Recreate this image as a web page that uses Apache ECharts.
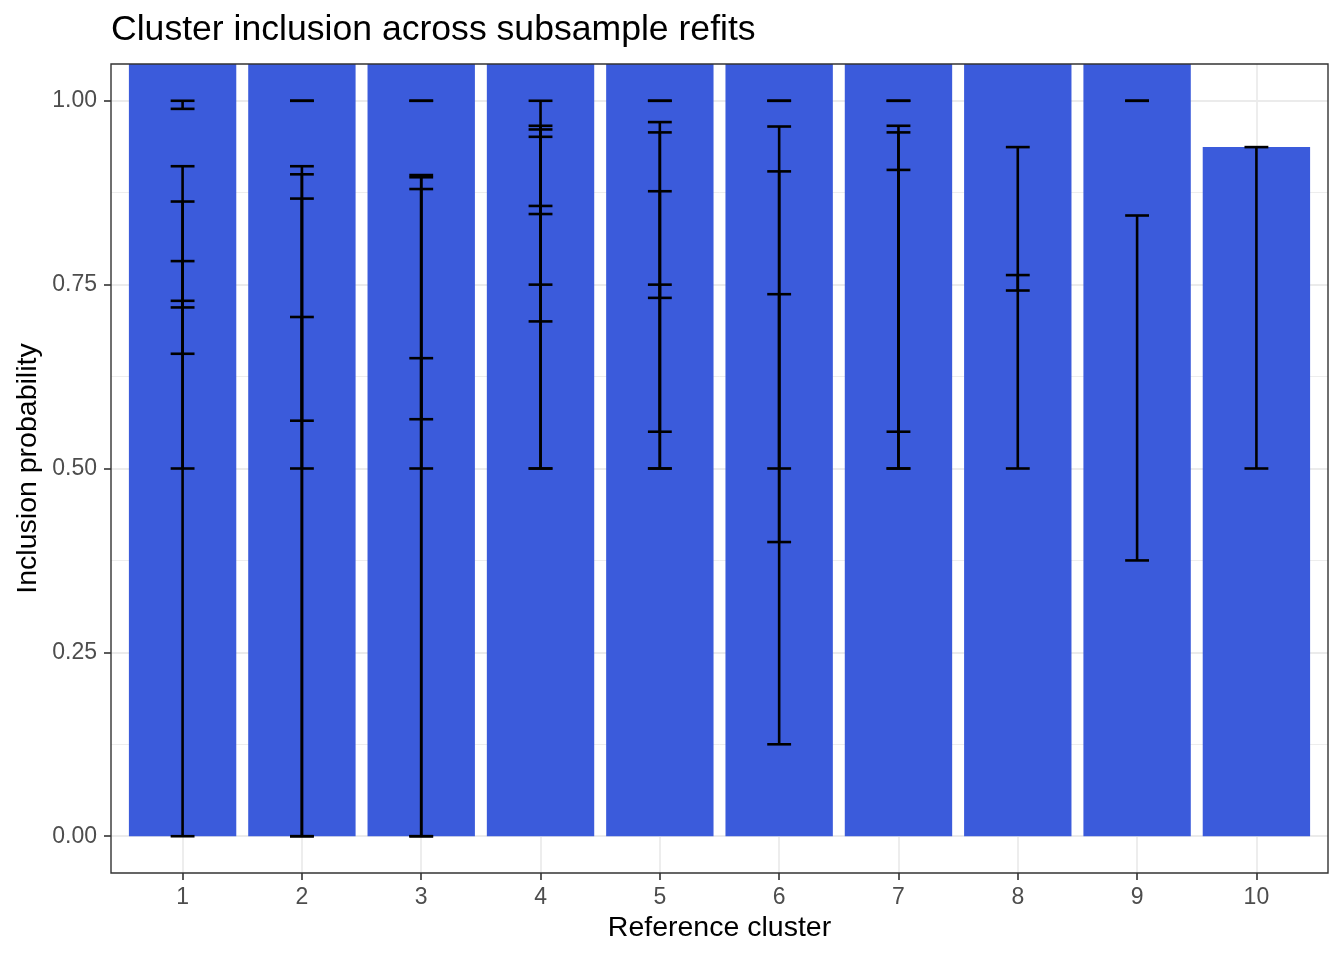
<!DOCTYPE html>
<html>
<head>
<meta charset="utf-8">
<script src="https://cdn.jsdelivr.net/npm/echarts@6/dist/echarts.min.js"></script>
<style>
  html, body { margin: 0; padding: 0; background: #ffffff; }
  #chart { width: 1344px; height: 960px; }
</style>
</head>
<body>
<div id="chart"></div>
<script>
// ---- data ----
const clusters = [1, 2, 3, 4, 5, 6, 7, 8, 9, 10];
const clusterLabels = ['1', '2', '3', '4', '5', '6', '7', '8', '9', '10'];
// stacked bar heights per cluster (clusters 1-9 run past the top of the panel)
const barTotals = [4.1, 4.3, 4.3, 4.6, 4.6, 3.6, 3.8, 1.8, 1.8, 0.937];
// one entry per refit interval
const ciCluster = [1, 1, 1, 1, 1,  2, 2, 2, 2, 2,  3, 3, 3, 3, 3,  4, 4, 4, 4, 4,  5, 5, 5, 5, 5,  6, 6, 6, 6,  7, 7, 7, 7,  8, 8,  9, 9,  10];
const ciLow  = [0.989, 0.000, 0.500, 0.656, 0.719,  1.000, 0.000, 0.500, 0.565, 0.000,  1.000, 0.000, 0.000, 0.500, 0.567,  0.500, 0.500, 0.700, 0.750, 0.846,  1.000, 0.500, 0.550, 0.500, 0.732,  1.000, 0.125, 0.400, 0.500,  1.000, 0.500, 0.550, 0.500,  0.500, 0.742,  1.000, 0.375,  0.500];
const ciHigh = [1.000, 0.911, 0.863, 0.782, 0.728,  1.000, 0.911, 0.900, 0.867, 0.706,  1.000, 0.899, 0.896, 0.880, 0.650,  1.000, 0.966, 0.961, 0.951, 0.857,  1.000, 0.971, 0.957, 0.877, 0.750,  1.000, 0.965, 0.904, 0.737,  1.000, 0.966, 0.957, 0.906,  0.937, 0.763,  1.000, 0.844,  0.937];
const yTicks = [0, 0.25, 0.5, 0.75, 1.0];
const yMinorTicks = [0.125, 0.375, 0.625, 0.875];

// ---- layout ----
const FONT = '"Liberation Sans", Arial, Helvetica, sans-serif';
const G = { left: 111, top: 64, right: 16, bottom: 87 };
const PW = 1344 - G.left - G.right, PH = 960 - G.top - G.bottom;
const BAR_COLOR = '#3B5BDB';

const barData = clusters.map((c, i) => [c, barTotals[i]]);
const ciData = ciCluster.map((c, i) => [c, ciLow[i], ciHigh[i]]);

function renderBar(params, api) {
  const x = api.value(0), v = api.value(1);
  const p0 = api.coord([x - 0.45, 0]);
  const p1 = api.coord([x + 0.45, v]);
  const rect = { x: p0[0], y: p1[1], width: p1[0] - p0[0], height: p0[1] - p1[1] };
  const cs = params.coordSys;
  const clipped = echarts.graphic.clipRectByRect(rect, { x: cs.x, y: cs.y, width: cs.width, height: cs.height });
  if (!clipped) return null;
  return { type: 'rect', shape: clipped, style: { fill: BAR_COLOR } };
}

function renderErr(params, api) {
  const x = api.value(0), lo = api.value(1), hi = api.value(2);
  const a = api.coord([x, lo]), b = api.coord([x, hi]);
  const l = api.coord([x - 0.1, lo])[0], r = api.coord([x + 0.1, lo])[0];
  const style = { stroke: '#000000', lineWidth: 2.6, lineCap: 'butt' };
  return {
    type: 'group',
    children: [
      { type: 'line', shape: { x1: a[0], y1: a[1], x2: b[0], y2: b[1] }, style },
      { type: 'line', shape: { x1: l, y1: a[1], x2: r, y2: a[1] }, style },
      { type: 'line', shape: { x1: l, y1: b[1], x2: r, y2: b[1] }, style }
    ]
  };
}

const chart = echarts.init(document.getElementById('chart'), null, { renderer: 'canvas' });
chart.setOption({
  animation: false,
  backgroundColor: '#ffffff',
  title: {
    text: 'Cluster inclusion across subsample refits',
    left: G.left - 5, top: 7,
    textStyle: { fontFamily: FONT, fontSize: 35.6, fontWeight: 'normal', color: '#000000' }
  },
  grid: { left: G.left, top: G.top, right: G.right, bottom: G.bottom, containLabel: false, show: false },
  xAxis: {
    type: 'value', min: 0.4, max: 10.6,
    axisLine: { show: false, onZero: false },
    axisTick: { show: true, customValues: clusters, length: 7, lineStyle: { color: '#333333', width: 1.6 } },
    axisLabel: {
      customValues: clusters, margin: 13,
      formatter: v => clusterLabels[clusters.indexOf(Math.round(v))] || '',
      fontFamily: FONT, fontSize: 23, color: '#4D4D4D'
    },
    splitLine: { show: true, lineStyle: { color: '#EBEBEB', width: 1.8 } }
  },
  yAxis: [
    {
      type: 'value', min: -0.05, max: 1.05,
      axisLine: { show: false, onZero: false },
      axisTick: { show: true, customValues: yTicks, length: 7, lineStyle: { color: '#333333', width: 1.6 } },
      axisLabel: {
        customValues: yTicks, margin: 14,
        formatter: v => v.toFixed(2),
        fontFamily: FONT, fontSize: 23, color: '#4D4D4D'
      },
      splitLine: { show: true, lineStyle: { color: '#EBEBEB', width: 1.8 } }
    },
    {
      type: 'value', min: -0.05, max: 1.05, position: 'left',
      axisLine: { show: false, onZero: false },
      axisTick: { show: false, customValues: yMinorTicks },
      axisLabel: { show: false, customValues: yMinorTicks },
      splitLine: { show: true, lineStyle: { color: '#EBEBEB', width: 0.9 } }
    }
  ],
  graphic: [
    {
      type: 'rect', z: 100, silent: true,
      shape: { x: G.left, y: G.top, width: PW, height: PH },
      style: { fill: null, stroke: '#333333', lineWidth: 1.4 }
    },
    {
      type: 'text', z: 100, x: G.left + PW / 2, y: 928,
      style: { text: 'Reference cluster', fontFamily: FONT, fontSize: 28.5, fill: '#000000', align: 'center', verticalAlign: 'middle' }
    },
    {
      type: 'text', z: 100, x: 28, y: G.top + PH / 2, rotation: Math.PI / 2,
      style: { text: 'Inclusion probability', fontFamily: FONT, fontSize: 28.5, fill: '#000000', align: 'center', verticalAlign: 'middle' }
    }
  ],
  series: [
    {
      type: 'custom', name: 'bars', renderItem: renderBar,
      encode: { x: 0, y: 1 }, data: barData, z: 2, clip: true
    },
    {
      type: 'custom', name: 'intervals', renderItem: renderErr,
      encode: { x: 0, y: [1, 2] }, data: ciData, z: 3, clip: true
    }
  ]
});
</script>
</body>
</html>
